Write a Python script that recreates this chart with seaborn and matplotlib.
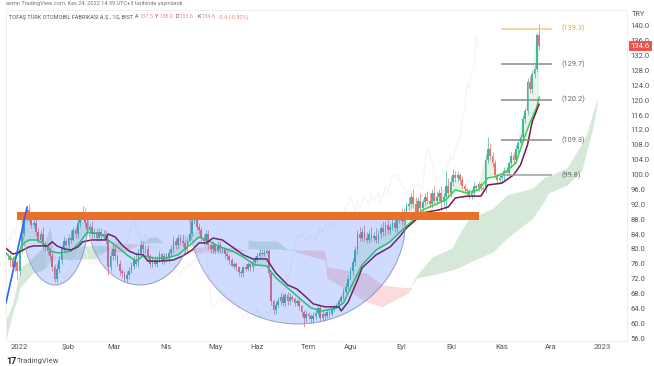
import numpy as np
import seaborn as sns
import matplotlib.pyplot as plt

sns.set_theme(style="white")
plt.rcParams['font.family'] = ['Roboto', 'DejaVu Sans']

# daily closes, one per bar
closes = [78,77,75,76.5,74,80,84,88,90.5,88.5,
          86.5,87,84.5,82.5,84,81,80.5,79.5,78,75,
          72,74.5,77,80,82,81,83,82.5,85,84,
          87,89,89.5,87,85,86,84,84.5,83,84.5,
          83.5,84,82.4,75,78,80,78,76,74,73.5,
          72,73,74,75.5,77,76,79,81,80,80,
          78,76,77,76,77,78.5,77,78,77.5,79,
          80,82,81,83,82,81.5,80,82,84,87.2,
          88,86,85,83,82,84,81,80,81,79.5,
          81,80,80,78.5,78,77,75.5,76,75,73.8,
          73.5,75,74.5,76,75,76.5,77,78,79,78.5,
          79,79.5,73.5,66,63.5,65,66,67,65.5,67.5,
          66,67,66.5,65.5,66,64.5,63,61.4,62.5,62,
          61,62,62.7,64,61.5,62.5,61.8,63,62.5,63.5,
          64.5,65,66,67,68.5,69.7,72,74,76.5,79.7,
          84,83,84.5,83,82.5,84,83,83.5,82.5,84,
          85.6,84.5,86.5,85,86,87,85.5,88,89,87.5,
          90,91.5,92,94,92,90,93,91,92.5,94,
          93,92,95,93,94,95,92.5,94,97,95,
          98,100,99,100,98.5,97,96,95.5,94.5,95,
          97,96.5,97.5,96.5,96,104,107,105,103,100,
          98.5,99,99.5,101,100.5,103,105,104,107,108.5,
          110,115,117,125,123,127,128.5,137.5,134.6]
wick_up = [1,.5,1,1.5,.5,1,1,1,.6,1.5,
           1,1,1.5,1,1,2,1,.5,1,1,
           1,1.5,1,1,1.5,1,1,2,1,1,
           1,1,2,1.5,1,1,1.5,1,1,1,
           1,1,1,.5,1.5,1,1,.5,1,.5,
           .5,1,1,1,1,1.5,1,1.5,1,1,
           1,.5,1,1,1,1,.5,1,1,1,
           1,1.5,1,1,1,2,1,1,1.5,1.5,
           2,1.5,1,1,1,1,1,.5,1,.5,
           1,1,.5,.5,1,.5,.5,.5,.5,.5,
           .5,.5,1,.5,.5,1,1,1,1,1,
           1,.5,.5,.5,.5,1,1,1,1,.5,
           1,1,.5,.5,.5,1,.5,.5,1,.5,
           .5,1,1,1,.5,1,.5,.5,.5,.5,
           .5,.5,.5,.5,1,1,1,1,1,1,
           1,2,1,2,1.5,1,2,1,2,1,
           1,2,1,2,1,1,2,1,1,2,
           1,1,2,1,2,2,1,2,1,1,
           1.5,2,1,2,1.5,1,2,1,4,2,
           1.5,1.5,1,1,.5,1,.5,.5,.5,1,
           1,.5,.5,.5,.5,1.5,3,1.5,1,1,
           .5,1,.5,1,1,.5,1,1,1,.5,
           1,1,1,1,1.5,1,1,.6,2.9]
wick_dn = [1,2,1,1,2,1,1,.5,.5,1,
           1,1,1,1,1,1,1,1,1,1,
           1,1,1,1,1,.5,1,1,.5,1,
           1,1,.5,1,1,1,1,1,1,1,
           1,1,1,2,1,1,1,.5,1,1,
           1,1,1,.5,1,.5,1,.5,1,1,
           1,1,1,.5,1,.5,1,1,1,1,
           1,1,1,1,1,1,1,1,1,.5,
           .5,1,1,1,1,1,1,1,1,1,
           .5,1,1,1,1,1,.5,1,1,1,
           1,1,.5,.5,1,1,1,.5,.5,.5,
           .5,.5,1,1,1,1,1,1,1,1,
           1,1,.5,1,1,1,1,2.4,1,1,
           1,1,1,.5,1,1,1,.5,1,.5,
           .5,.5,.5,.5,.5,.5,.5,.5,1,1,
           1,1,1,1,1,1,1,1,1,1,
           1,1,1,1,1,1,1,1,1,1,
           1,1,1,1,1,1,1,1,1,1,
           1,1,1,1,1,1,2,1,3.5,1,
           1,1,1,1,1,1,1,1,1,1,
           1,1,1,1,1,1,1,1,1,1,
           1,1,1,1,1,1,1,1,1,1,
           1,1,1,1,1,1,1,1,1]

# moving averages, read every few bars
fast_bars = [-1,2,4,7,9,12,15,19,22,27,31,34,40,43,47,51,55,58,63,68,73,78,82,87,90,97,101,106,111,115,
             120,125,130,135,141,144,148,152,158,164,170,173,178,183,188,192,197,202,206,209,213,218,221,224,227,228]
fast_ma = [78.9,77,78.4,81.6,82.4,82.4,81.6,79.2,78.9,79.4,81.9,84.5,84,82.4,80.5,78.4,76.7,78.1,77.5,77.5,78.4,81,83.2,81.9,80.8,79.2,77.8,75.7,75.4,72.2,
           69.5,66.8,64.1,63.3,64.1,65.4,70.8,75.7,79.7,81.9,85.6,87.2,90.5,91.8,93.2,95.9,95,95.9,99.1,99.4,100.4,103.1,108.8,113.9,118.2,120.9]
slow_bars = [-1,2,4,9,11,15,17,19,21,24,27,30,32,36,42,43,46,49,52,55,58,60,65,71,75,79,82,85,88,92,97,101,105,111,115,
             120,124,128,131,136,142,143,146,150,152,158,164,168,171,175,178,185,189,192,197,203,206,212,217,220,223,225,228]
slow_ma = [80.2,78.6,78.9,80.5,80.8,80.8,80.8,81.9,80.8,80,79.7,80.5,81.9,82.4,82.4,84,83.2,81,79.4,78.6,78.4,76.7,76.7,77,78.1,79.7,81.6,81.6,82.9,82.4,80.2,78.4,77.3,77.3,73.5,
           70.3,69.2,67,65.2,64.4,64.4,63.3,65.7,71.6,74.9,78.4,80.5,83.2,85.6,87.8,89.7,90.5,91.3,93.7,94.2,94.2,97.2,97.7,99.9,102.6,108,114.2,119]

# ichimoku cloud pieces: bars, upper, lower
green_clouds = [
    ([-0.9,2.1,3.9,5.2,10.7,15,18,20.2,22.3,26.6,32.2,37.3,42.5],
     [60.9,65.4,70.8,74.9,77.8,80.5,85.9,77.5,78.4,79.7,80.8,81,80.8],
     [55.5,63,66.2,69.7,73.5,74.3,76.5,77.5,77.5,77,77.3,77.3,79.7]),
    ([56.6,61,64,66.5],[81.3,83.2,83.2,81.6],[81.3,81.6,81.6,81.6]),
    ([103,106.9,115.5,119.7,123.2],[82.4,82.1,82.1,80,79.7],[80,80,80,79.7,79.7]),
    ([172.5,175.5,182,190.6,194,197.4,208.2,214.2,225.3,230.5,231.8,240,246.4,248.5,251,252.8],
     [69.7,73,77.8,80.2,84.3,87.8,91,94.5,96.4,99.4,99.6,101.8,108.5,111.2,116.6,120.1],
     [69.7,72.2,73,74.3,75.1,76.2,79.2,82.9,88.3,93.2,95,97.2,101.2,106.6,112.5,118.7]),
]
red_clouds = [
    ([42.5,45,50,56.6],[79.7,81.9,81.6,81.3],[79.7,79.2,79.2,81.3]),
    ([77,80,86.7,91.8,96.6,102.6],[79.7,80.2,81,80.2,80.5,79.7],[79.7,78.9,79.2,78.9,79.2,79.7]),
    ([123.2,136,136.9,154,160.5,171.7,173.4],[79.7,79.7,75.1,73.5,70.3,69.5,69.7],[79.2,77,72.2,65.7,64.4,68.1,69.7]),
]

# fib levels, rounding bottoms and the resistance band
fib_levels = [139.3, 129.7, 120.2, 109.3, 99.8]
fib_colors = ['#f5c98a', '#8a8a8a', '#8a8a8a', '#8a8a8a', '#a0a0a0']
fib_text = ['#f0a050', '#666666', '#666666', '#666666', '#666666']
bowls = [(6, 34.3, 70.3), (34.3, 79, 70.3), (78, 170.8, 59.8)]
bowl_top = 88
trend_bars = [-0.9, 8.2]
trend_vals = [65.4, 91.3]

price_ticks = list(range(56, 144, 4))
date_ticks = [5, 26, 45.5, 68, 89, 107, 129, 147, 169, 190.5, 212, 233, 255]
date_labels = ['2022', 'Şub', 'Mar', 'Nis', 'May', 'Haz', 'Tem', 'Ağu', 'Eyl', 'Eki', 'Kas', 'Ara', '2023']

closes = np.array(closes)
bars = np.arange(len(closes))
opens = np.r_[closes[0], closes[:-1]]
highs = np.maximum(opens, closes) + np.array(wick_up)
lows = np.minimum(opens, closes) - np.array(wick_dn)
candle_colors = np.where(closes >= opens, '#45b3a8', '#f0706e')

W, H = 654, 366
fig = plt.figure(figsize=(W / 100, H / 100), dpi=100)
ax = fig.add_axes([6 / W, 1 - 341 / H, 621 / W, 331 / H])

for xs, up, lo in green_clouds:
    ax.fill_between(xs, up, lo, color='#d6e9d8', lw=0, zorder=1)
for xs, up, lo in red_clouds:
    ax.fill_between(xs, up, lo, color='#fbdcdb', lw=0, zorder=1)

# lagging span is just the close moved back
sns.lineplot(x=bars - 26, y=closes, ax=ax, color='#f4f4f4', lw=0.8, zorder=1)

keep = np.array(fast_bars) >= 0
fb = np.array(fast_bars)[keep]
fm = np.array(fast_ma)[keep]
ax.fill_between(fb, closes[fb], fm, where=closes[fb] > fm, color='#e6f4e8', lw=0, zorder=1, interpolate=True)

ax.vlines(bars, lows, highs, colors=candle_colors, lw=0.5, zorder=2)
ax.bar(bars, closes - opens, bottom=opens, width=0.75, color=candle_colors, lw=0, zorder=2)

sns.lineplot(x=fast_bars, y=fast_ma, ax=ax, color='#2bd94a', lw=1.1, zorder=3)
sns.lineplot(x=slow_bars, y=slow_ma, ax=ax, color='#7a1650', lw=1.1, zorder=3)

for left, right, bottom in bowls:
    xs = np.linspace(left, right, 120)
    rel = (xs - (left + right) / 2) / ((right - left) / 2)
    ys = bowl_top - (bowl_top - bottom) * np.sqrt(np.clip(1 - rel ** 2, 0, 1))
    ax.fill_between(xs, ys, bowl_top, color='#2962ff', alpha=0.22, lw=0, zorder=4)
    ax.plot(xs, ys, color='#8493c0', lw=0.7, alpha=0.8, zorder=4)

ax.fill_between([3.9, 202], 87.8, 90, color='#e8702a', lw=0, zorder=5)
sns.lineplot(x=trend_bars, y=trend_vals, ax=ax, color='#2962ff', lw=1.2, zorder=5)

for level, col, tcol in zip(fib_levels, fib_colors, fib_text):
    ax.hlines(level, 211.6, 233.5, color=col, lw=1.1, zorder=5)
    ax.text(237.5, level, '(%.1f)' % level, color=tcol, fontsize=5.3, va='center', ha='left', zorder=6)

ax.set_xlim(-0.86, 265.7)
ax.set_ylim(55.2, 144.3)
ax.yaxis.tick_right()
ax.set_yticks(price_ticks)
ax.set_yticklabels(['%.1f' % p for p in price_ticks])
ax.set_xticks(date_ticks)
ax.set_xticklabels(date_labels)
ax.tick_params(axis='both', length=0, labelsize=5.5, labelcolor='#555555', pad=2.5)
ax.tick_params(axis='x', pad=4)
for t in ax.get_xticklabels():
    t.set_va('center_baseline')
for side in ax.spines:
    ax.spines[side].set_color('#eeeeee')
    ax.spines[side].set_linewidth(0.7)
ax.set_ylabel('')

# last price tag on the scale
ax.annotate('134.6', xy=(1, 134.6), xycoords=('axes fraction', 'data'), xytext=(2.5, 0), textcoords='offset points',
            fontsize=5.5, color='white', va='center', ha='left', annotation_clip=False, zorder=10,
            bbox=dict(boxstyle='square,pad=0.25', fc='#ef5350', ec='none'))
fig.text(632 / W, 1 - 15 / H, 'TRY', fontsize=5.2, color='#555555', va='center')

# header and footer
fig.text(6 / W, 1 - 4 / H, 'asmn TradingView.com, Kas 24, 2022 14:39 UTC+3 tarihinde yayınlandı',
         fontsize=4.1, color='#777777', va='center')
fig.text(9 / W, 1 - 17 / H, 'TOFAŞ TÜRK OTOMOBİL FABRİKASI A.Ş., 1G, BIST', fontsize=4, color='#555555', va='center')
for x, label, val in [(135, 'A', '137.5'), (155, 'Y', '138.0'), (176, 'D', '133.6'), (197, 'K', '134.6')]:
    fig.text(x / W, 1 - 17 / H, label, fontsize=4, color='#555555', va='center')
    fig.text((x + 4) / W, 1 - 17 / H, val, fontsize=4, color='#ef8a88', va='center')
fig.text(218 / W, 1 - 17 / H, '-0.4 (-0.30%)', fontsize=4, color='#ef8a88', va='center')
fig.text(6 / W, 1 - 361 / H, '17', fontsize=6.5, fontweight='bold', color='#222222', va='center')
fig.text(17 / W, 1 - 361 / H, 'TradingView', fontsize=5.5, color='#555555', va='center')

fig.savefig('out.png', dpi=100)
